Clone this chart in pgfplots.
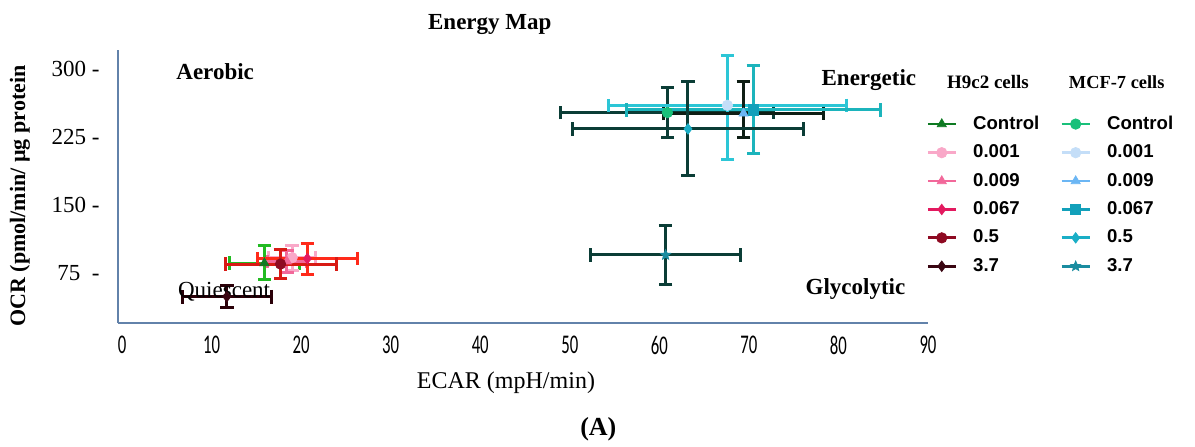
\documentclass[border=0pt]{standalone}
\usepackage{pgfplots}
\pgfplotsset{compat=1.18}
\usepackage{fontspec}
\usepackage{graphicx}
\setmainfont{Liberation Serif}
\newfontfamily\legfont{Liberation Sans}
\newfontfamily\tickfont{Carlito}

\definecolor{axblue}{HTML}{6282AA}
% H9c2 cells
\definecolor{hCtl}{HTML}{0E7A22}
\definecolor{hA}{HTML}{F9A8C8}
\definecolor{hB}{HTML}{F2689A}
\definecolor{hC}{HTML}{E3195F}
\definecolor{hD}{HTML}{8E0A22}
\definecolor{hE}{HTML}{3A0612}
% MCF-7 cells
\definecolor{mCtl}{HTML}{19C07A}
\definecolor{mA}{HTML}{C4DEF8}
\definecolor{mB}{HTML}{6BB6F4}
\definecolor{mC}{HTML}{12A0BA}
\definecolor{mD}{HTML}{1AAEC6}
\definecolor{mE}{HTML}{1A8CA0}
% error bar colours as drawn
\definecolor{bGreen}{HTML}{22BB22}
\definecolor{bRed}{HTML}{FF2A1A}
\definecolor{bRed2}{HTML}{D81A14}
\definecolor{bDark}{HTML}{2A0008}
\definecolor{bTeal}{HTML}{0B3D36}
\definecolor{bCyan}{HTML}{2CC6D6}
\definecolor{bTeal2}{HTML}{1CB4BC}
\definecolor{bBlack}{HTML}{0E1E14}

\pgfdeclareplotmark{fstar}{%
  \pgfpathmoveto{\pgfpointpolar{90}{\pgfplotmarksize}}%
  \pgfpathlineto{\pgfpointpolar{126}{0.45\pgfplotmarksize}}%
  \pgfpathlineto{\pgfpointpolar{162}{\pgfplotmarksize}}%
  \pgfpathlineto{\pgfpointpolar{198}{0.45\pgfplotmarksize}}%
  \pgfpathlineto{\pgfpointpolar{234}{\pgfplotmarksize}}%
  \pgfpathlineto{\pgfpointpolar{270}{0.45\pgfplotmarksize}}%
  \pgfpathlineto{\pgfpointpolar{306}{\pgfplotmarksize}}%
  \pgfpathlineto{\pgfpointpolar{342}{0.45\pgfplotmarksize}}%
  \pgfpathlineto{\pgfpointpolar{18}{\pgfplotmarksize}}%
  \pgfpathlineto{\pgfpointpolar{54}{0.45\pgfplotmarksize}}%
  \pgfpathclose\pgfusepathqfillstroke}

\pgfplotsset{
  ser/.style 2 args={only marks, color=#1, mark size=2.6pt,
    mark options={solid, fill=#1, draw=#1},
    error bars/x dir=both, error bars/x explicit,
    error bars/y dir=both, error bars/y explicit,
    error bars/error bar style={line width=1.5pt, color=#2},
    error bars/error mark options={rotate=90, line width=1.5pt, mark size=3.4pt, color=#2}},
}

\begin{document}
\begin{tikzpicture}
\useasboundingbox (-59pt,-61.5pt) rectangle (538.5pt,161.5pt);
\begin{axis}[
  scale only axis, width=405pt, height=136.5pt,
  xmin=-0.45, xmax=90, ymin=20, ymax=321,
  clip=false,
  axis x line*=bottom, axis y line*=left,
  axis line style={axblue, line width=1pt},
  major tick length=0pt,
  xtick={0,10,...,90},
  xticklabel={\scalebox{0.62}[1]{\pgfmathprintnumber[assume math mode=true]{\tick}}},
  xticklabel style={font=\tickfont\fontsize{13.5}{14}\selectfont, anchor=center, yshift=-11pt},
  ytick={75,150,225,300},
  yticklabels={75\enspace -, 150 -, 225 -, 300 -},
  yticklabel style={font=\fontsize{11.5}{13}\selectfont, anchor=east, inner sep=0pt, xshift=-9pt},
  every axis title shift=0pt,
  title={Energy Map},
  title style={at={(axis description cs:0.459,1.095)}, anchor=center, font=\bfseries\fontsize{11.5}{13}\selectfont},
  xlabel={ECAR (mpH/min)},
  xlabel style={at={(axis description cs:0.479,-0.22)}, anchor=center, font=\fontsize{12}{14}\selectfont},
  ylabel={OCR (pmol/min/ µg protein},
  ylabel style={at={(axis description cs:-0.121,0.465)}, anchor=center, font=\bfseries\fontsize{11}{13}\selectfont},
  legend columns=6, transpose legend,
  legend cell align=left,
  legend style={at={(axis description cs:0.9975,0.775)}, anchor=north west,
    draw=none, fill=none, inner sep=0pt,
    font=\legfont\bfseries\fontsize{9.3}{11}\selectfont,
    /tikz/every odd column/.append style={column sep=6pt},
    /tikz/every even column/.append style={column sep=8.5pt},
    row sep=2.2pt},
  legend image code/.code={%
    \draw[#1, line width=1.4pt] (0pt,0pt) -- (14pt,0pt);
    \draw[#1] plot coordinates {(7pt,0pt)};},
]
% H9c2 cells
\addplot[ser={hCtl}{bGreen}, mark=triangle*] coordinates {(15.9,86) += (3.95,19) -= (3.95,18)};
\addlegendentry{Control}
\addplot[ser={hA}{hA}, mark=*] coordinates {(19.0,92) +- (2.6,14)};
\addlegendentry{0.001}
\addplot[ser={hB}{hB}, mark=triangle*] coordinates {(18.4,88) +- (2.2,12)};
\addlegendentry{0.009}
\addplot[ser={hC}{bRed}, mark=diamond*] coordinates {(20.7,91) +- (5.6,17)};
\addlegendentry{0.067}
\addplot[ser={hD}{bRed2}, mark=*] coordinates {(17.7,85) +- (6.2,16)};
\addlegendentry{0.5}
\addplot[ser={hE}{bDark}, mark=diamond*] coordinates {(11.7,49) +- (4.95,12)};
\addlegendentry{3.7}
% MCF-7 cells
\addplot[ser={mCtl}{bTeal}, mark=*] coordinates {(60.9,252) += (11.9,28) -= (11.9,27)};
\addlegendentry{Control}
\addplot[ser={mA}{bCyan}, mark=*] coordinates {(67.6,260) += (13.3,55) -= (13.3,60)};
\addlegendentry{0.001}
\addplot[ser={mB}{bBlack}, mark=triangle*] coordinates {(69.4,251) += (8.9,35) -= (8.9,27)};
\addlegendentry{0.009}
\addplot[ser={mC}{bTeal2}, mark=square*] coordinates {(70.5,255) += (14.2,49) -= (14.2,48)};
\addlegendentry{0.067}
\addplot[ser={mD}{bTeal}, mark=diamond*] coordinates {(63.2,234) += (12.85,52) -= (12.85,51)};
\addlegendentry{0.5}
\addplot[ser={mE}{bTeal}, mark=fstar] coordinates {(60.7,95) += (8.35,32) -= (8.35,33)};
\addlegendentry{3.7}

\node[font=\bfseries\fontsize{11.5}{13}\selectfont] at (axis cs:10.4,297) {Aerobic};
\node[font=\bfseries\fontsize{11.5}{13}\selectfont] at (axis cs:83.4,288) {Energetic};
\node[font=\bfseries\fontsize{11.5}{13}\selectfont] at (axis cs:81.9,58) {Glycolytic};
\node[font=\fontsize{11.5}{13}\selectfont] at (axis cs:11.4,54) {Quiescent};
\node[font=\bfseries\fontsize{9.5}{11}\selectfont] at (axis description cs:1.074,0.883) {H9c2 cells};
\node[font=\bfseries\fontsize{9.2}{11}\selectfont] at (axis description cs:1.233,0.883) {MCF-7 cells};
\node[font=\bfseries\fontsize{13}{15}\selectfont] at (axis description cs:0.593,-0.39) {(A)};
\end{axis}
\end{tikzpicture}
\end{document}
